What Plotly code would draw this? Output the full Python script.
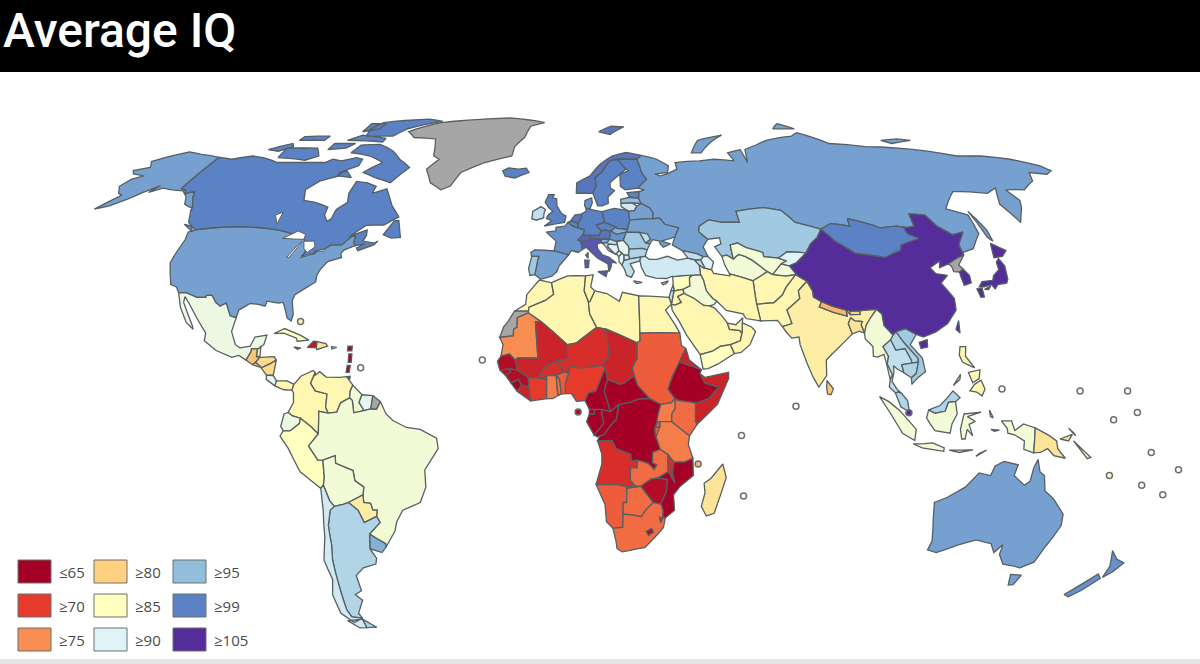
import plotly.graph_objects as go

# the cdn base map can't be fetched here, so outlines are rough lon/lat rings read by eye
legend_labels = ['≤65', '≥70', '≥75', '≥80', '≥85', '≥90', '≥95', '≥99', '≥105']
legend_colors = ['#A50026', '#E53A2C', '#F98E52', '#FDD17F', '#FFFFBF', '#E0F3F8', '#91BFDB', '#5B82C4', '#542D9B']
class_levels = [65, 70, 75, 80, 85, 90, 95, 99, 105]
no_data_color = '#A6A6A6'

###### North America
usa = [-124.7,48.4,-123,49,-95.2,49,-89.6,48,-84.8,46.5,-82.5,45.3,-82.5,42.8,-83,42,-79,42.8,-79,43.3,-76.5,44,-75,45,-71.5,45,-70.3,46.2,-69.2,47.4,-68,47.3,-67.8,45.7,-67,44.8,-70,43.7,-70.7,42.7,-70,41.7,-74,40.6,-75.5,38.5,-76,37,-75.7,35.3,-78,33.9,-81,32,-81.4,30.5,-80.1,26.8,-80.4,25.2,-81.8,26,-82.8,28,-84,30,-85.5,29.8,-89,30.3,-89.3,29,-91.5,29.5,-94,29.7,-97,28,-97.2,26,-99.2,26.5,-101.4,29.8,-103,29,-104.7,30,-106.5,31.8,-108.2,31.8,-108.2,31.3,-111,31.3,-114.8,32.5,-117.1,32.5,-118.5,34,-120.6,34.6,-122.4,37.5,-124.2,40.3,-124.2,43,-124,46.3]
alaska = [-141,69.6,-141,60.3,-139,60,-137.5,58.9,-135,59.6,-133,57.5,-130,55,-131.5,55.2,-134,56,-136,58,-139.5,59.7,-144,60,-148,60.5,-151.5,59.3,-150,61.2,-153.5,59.3,-156,57.5,-160,55.5,-164,54.6,-160,58.5,-162,59,-165,61,-164,63,-161,64,-166,64.6,-168,65.6,-163,66.5,-166,68.3,-163,69.5,-156.5,71.3,-150,70.5]
canada = [-141,69.6,-135,69,-128,70,-123,69.5,-115,68,-108,68,-100,68,-96,68,-94,69,-90,68.5,-85,69.5,-82,69,-81.5,67,-87,65,-86,64,-92,62.5,-94.8,60,-92.5,57,-88,56.5,-82.5,55.2,-82,53,-80,51.3,-79,52,-79,54.5,-76.5,56.5,-78,59,-78,62.4,-73.5,62,-69.5,61,-69.5,59,-65,60.3,-62.5,58,-60,55.5,-56,52.5,-60,50.3,-66,50.2,-70,47.2,-65,49,-64.5,47.5,-65,46,-61,45.5,-60,46,-61,45,-65.5,43.5,-66.3,44.2,-64,45.3,-67,44.8,-67.8,45.7,-68,47.3,-69.2,47.4,-70.3,46.2,-71.5,45,-75,45,-76.5,44,-79,43.3,-79,42.8,-83,42,-82.5,42.8,-82.5,45.3,-84.8,46.5,-89.6,48,-95.2,49,-123,49,-127,51,-130,54.5,-130,55,-133,57.5,-135,59.6,-137.5,58.9,-139,60,-141,60.3]
vancouver = [-123.5,48.5,-128,50.5,-125,50]
newfoundland = [-59,47.7,-57,51.4,-55.5,51.5,-53,47,-56,46.8]
baffin = [-61,66.5,-65,62,-72,63.5,-78,65,-73,68,-80,70,-89,71,-88,73.5,-80,73.7,-72,71.5,-67,69]
victoria_isl = [-117,69.5,-105,68.7,-101,70,-105,72.5,-118,72.5]
banks = [-125,72,-118,74,-116,73,-120,71.5]
ellesmere = [-90,76.5,-78,76.5,-75,79,-62,82,-70,83,-90,81.5,-92,79]
devon = [-96,75,-80,74.5,-80,75.7,-92,76.8]
southampton = [-87,64,-81,63.5,-85,65.7]
melville = [-117,75,-106,75,-106,76.5,-117,76.3]
somerset = [-100,72,-93,72.5,-91,74,-100,74]
axel = [-94,78,-88,79,-88,81,-95,81]
greenland = [-73,78,-68,76,-58,75.5,-54,70,-51,69,-54,66,-50,62,-45,60,-42,61,-40,65,-32,68,-22,70,-22,73,-19,76,-18,80,-12,81.5,-30,83.5,-50,82.5,-62,81.5]
mexico = [-117.1,32.5,-114.8,32.5,-111,31.3,-108.2,31.3,-108.2,31.8,-106.5,31.8,-104.7,30,-103,29,-101.4,29.8,-99.2,26.5,-97.2,26,-97.8,22.4,-96,19,-94.5,18.2,-91.5,18.6,-90.5,21,-87,21.5,-87.5,19,-88.3,18.5,-89,17.9,-91,17.9,-91,17.2,-92.2,15,-94.5,16.2,-96.5,15.7,-101.5,17.5,-105.5,20,-105.5,22,-109,25.8,-112.5,29.5,-114.7,31.5,-114.5,30,-110,24,-109.5,23,-112,24.8,-115,28.7]
guatemala = [-92.2,15,-91,17.2,-91,17.9,-89.2,17.9,-89.2,15.9,-88.2,15.7,-89.3,14.4,-90.1,13.8]
belize = [-89,17.9,-88.3,18.5,-88.2,16,-89.2,15.9,-89.2,17.9]
honduras = [-88.2,15.7,-84,15.9,-83.2,15,-85,14,-87.3,13,-89.3,14.4]
el_salvador = [-90.1,13.8,-89.3,14.4,-87.8,13.4,-88,13.2]
nicaragua = [-87.5,13,-85,14,-83.2,15,-83.7,11,-85.7,11.1]
costa_rica = [-85.7,11.1,-83.7,11,-82.6,9.6,-83,8.3,-85.7,10]
panama = [-83,8.3,-82.6,9.6,-79.5,9.6,-77.4,8.7,-77.9,7.2,-80.3,7.3,-81.5,7.7]
cuba = [-84.9,21.9,-82,23.2,-77,21.5,-74.2,20.2,-77.7,19.9,-78,20.7,-82,22]
haiti = [-74.4,18.3,-72.8,19.9,-71.7,19.8,-71.7,18.2]
dominican = [-71.7,19.8,-69,19.3,-68.4,18.6,-71.5,17.7,-71.7,18.2]
jamaica = [-78.4,18.4,-76.3,18.1,-77.3,17.8]
puerto_rico = [-67.2,18.5,-65.6,18.3,-67,17.9]
antilles_north = [-62.3,18.6,-61,18.6,-61,17.4,-62.3,17.4]
antilles_mid = [-61.8,16.6,-60.9,16.6,-60.9,14.4,-61.8,14.4]
antilles_south = [-62,13.6,-61.1,13.6,-61.3,11.8,-62.2,11.8]
trinidad = [-61.9,10.7,-60.9,10.8,-61,10.1]
na_names = ['USA', 'Alaska', 'Canada', 'Greenland', 'Mexico', 'Guatemala', 'Belize', 'Honduras', 'El Salvador', 'Nicaragua', 'Costa Rica', 'Panama', 'Cuba', 'Haiti', 'Dominican Rep.', 'Jamaica', 'Puerto Rico', 'Lesser Antilles', 'Trinidad']
na_iq = [97, 97, 99, None, 88, 79, 84, 81, 80, 81, 89, 84, 85, 67, 82, 66, 84, 65, 68]
na_rings = [[usa], [alaska], [canada, vancouver, newfoundland, baffin, victoria_isl, banks, ellesmere, devon, southampton, melville, somerset, axel], [greenland], [mexico], [guatemala], [belize], [honduras], [el_salvador], [nicaragua], [costa_rica], [panama], [cuba], [haiti], [dominican], [jamaica], [puerto_rico], [antilles_north, antilles_mid, antilles_south], [trinidad]]

###### South America
colombia = [-77.4,8.7,-75.5,10.8,-72,12.3,-71.3,11.8,-72.5,9,-71,7,-67.5,6.2,-67.8,2.8,-67,1.2,-69.8,1.7,-69.8,-0.5,-70,-4.2,-72,-2.4,-75.2,-0.1,-77.5,0.5,-78.8,1.4,-77.3,4,-77.4,6.5,-77.9,7.2]
venezuela = [-71.3,11.8,-71.7,10.8,-70,12,-68,10.6,-64,10.5,-62,10.7,-60,8.5,-60.7,7,-60.8,5.2,-63.4,3.9,-64.5,1.5,-67,1.2,-67.8,2.8,-67.5,6.2,-71,7,-72.5,9]
guyana = [-60,8.5,-57.2,6,-58,4,-56.5,1.9,-59.5,1.3,-60,4.5,-60.8,5.2,-60.7,7]
suriname = [-57.2,6,-54,5.8,-54.5,2.3,-56.5,1.9,-58,4]
fr_guiana = [-54,5.8,-51.7,4.2,-52.8,2.2,-54.5,2.3]
ecuador = [-80,1,-78.8,1.4,-77.5,0.5,-75.2,-0.1,-75.5,-1.5,-78.3,-3.4,-80.3,-3.4,-81,-2.2]
peru = [-80.3,-3.4,-78.3,-3.4,-75.5,-1.5,-75.2,-0.1,-72,-2.4,-70,-4.2,-73,-7.3,-70.5,-11,-69,-11,-69,-15.5,-69.5,-17.5,-70.4,-18.3,-76,-14,-79,-8,-81.3,-4.7]
brazil = [-51.7,4.2,-50,1,-48,-0.7,-44,-2.5,-40,-3,-35.2,-5.3,-34.8,-8,-39,-13.5,-39,-18,-41,-22,-46.5,-24,-48.7,-27,-49.7,-29.5,-53.4,-33.7,-53.2,-32.7,-57.6,-30.2,-53.8,-27.2,-54.6,-25.6,-54.2,-24,-55.5,-24,-56,-22.2,-58,-22,-58,-20,-57.5,-18,-60,-16.3,-60.3,-13.7,-65.3,-11.8,-65.3,-9.8,-69,-11,-70.5,-11,-73,-7.3,-70,-4.2,-69.8,-0.5,-69.8,1.7,-67,1.2,-64.5,1.5,-63.4,3.9,-60.8,5.2,-60,4.5,-59.5,1.3,-56.5,1.9,-54.5,2.3,-52.8,2.2]
bolivia = [-69,-11,-65.3,-9.8,-65.3,-11.8,-60.3,-13.7,-60,-16.3,-57.5,-18,-58,-20,-62.6,-22,-64.3,-22.5,-67,-23,-68.2,-21.5,-69.5,-17.5,-69,-15.5]
paraguay = [-58,-20,-58,-22,-56,-22.2,-55.5,-24,-54.2,-24,-54.6,-25.6,-58.6,-27.2,-60,-24,-62.6,-22]
uruguay = [-57.6,-30.2,-53.2,-32.7,-53.4,-33.7,-54.9,-35,-58.4,-34]
argentina = [-64.3,-22.5,-62.6,-22,-60,-24,-58.6,-27.2,-54.6,-25.6,-53.8,-27.2,-57.6,-30.2,-58.4,-34,-57,-36.5,-57.7,-38,-62,-39,-65,-41,-65,-45,-67.5,-46,-65.8,-47.5,-69,-51,-68.4,-52.3,-71.9,-52,-72.5,-50,-72,-46,-71.5,-42,-71,-37,-70,-33,-69.7,-28,-68.4,-24,-67,-23]
arg_fuego = [-68.6,-52.6,-65,-54.8,-68.6,-54.9]
chile = [-70.4,-18.3,-69.5,-17.5,-68.2,-21.5,-67,-23,-68.4,-24,-69.7,-28,-70,-33,-71,-37,-71.5,-42,-72,-46,-72.5,-50,-71.9,-52,-68.4,-52.3,-72,-53.5,-75,-51,-75,-46,-73,-42,-73.7,-37,-71.5,-31,-70.5,-24]
chile_fuego = [-68.6,-52.6,-68.6,-54.9,-71,-55,-74,-53]
sa_names = ['Colombia', 'Venezuela', 'Guyana', 'Suriname', 'French Guiana', 'Ecuador', 'Peru', 'Brazil', 'Bolivia', 'Paraguay', 'Uruguay', 'Argentina', 'Chile']
sa_iq = [84, 84, 87, 89, None, 88, 85, 87, 87, 83, 96, 93, 91]
sa_rings = [[colombia], [venezuela], [guyana], [suriname], [fr_guiana], [ecuador], [peru], [brazil], [bolivia], [paraguay], [uruguay], [argentina, arg_fuego], [chile, chile_fuego]]

###### Europe
iceland = [-24,65.5,-22,66.4,-18,66,-15,66.3,-13.6,65,-18.7,63.4,-22.5,63.9]
uk = [-5.5,50,1.3,51,1.7,52.7,0,53.5,-1.7,55.5,-2,57.5,-3.5,57.7,-3,58.6,-5,58.6,-6,56.5,-4.5,55,-3,54,-4.5,53,-5,52,-3,51.5]
ireland = [-6,52.2,-6,53.5,-5.6,54.5,-7.3,55.3,-10,54,-10,52,-8.5,51.6]
france = [2.5,51,1.5,50,-1.5,49.7,-1.5,48.7,-4.7,48.4,-1.2,46,-1.7,43.4,3.1,42.4,3.9,43.5,6.2,43,7.5,43.8,7,45.9,6,46.3,7.6,47.6,8.2,49,6,49.5,4.2,50]
corsica = [8.6,42.3,9.4,43,9.4,41.5]
spain = [-1.7,43.4,-8,43.7,-9.2,43,-8.8,42,-6.5,42,-6.8,41,-7,39.5,-7.4,37.2,-6.2,36.5,-5.5,36,-2,36.8,-0.5,38,0.2,39.5,3.1,42.4]
portugal = [-8.8,42,-6.5,42,-6.8,41,-7,39.5,-7.4,37.2,-8.9,37,-9.5,38.8]
belgium = [2.5,51,3.4,51.4,6,50.8,6,49.5,4.2,50]
netherlands = [3.4,51.4,4.7,53,7.1,53.3,6.9,52,6,50.8]
germany = [6.9,52,7.1,53.3,8.6,54,8.6,54.9,11,54.4,14.2,53.9,14.7,52,15,51,12.2,50.3,13.8,48.7,13,47.5,9.6,47.5,7.6,47.6,8.2,49,6,49.5,6,50.8]
switzerland = [6,46.3,7.6,47.6,9.6,47.5,10.4,46.8,9,45.9,7,45.9]
austria = [9.6,47.5,13,47.5,13.8,48.7,15,49,17,48.7,16.5,47,16.5,46.5,13.7,46.5,10.4,46.8]
italy = [7,45.9,9,45.9,10.4,46.8,13.7,46.5,13.7,45.6,12.3,45.2,12.5,44,14,42.4,16,41.8,18.5,40.2,17,40.5,16.6,39,16,38,15.7,40,12.5,41.5,10.5,43,8.8,44.4,7.5,43.8]
sicily = [12.5,38,15.6,38.2,15,36.7]
sardinia = [8.3,41,9.7,41,9.5,39.1,8.5,39]
denmark = [8.6,54.9,10,54.8,10.8,56.3,10.6,57.7,8.2,57,8.1,55.5]
norway = [5,59,5,62,10,64,14,67.5,19,70,25,71.1,31,70.2,29,69,25.7,69,21,69,18,68.5,14.5,65,12,63.5,12.3,61,11,59]
svalbard = [14,78,20,80,26,79.8,19,77]
sweden = [11,59,12.3,61,12,63.5,14.5,65,18,68.5,21,69,24,66,21.5,64.5,17.5,62,17.5,60.5,19,59.8,16.5,58,16.5,56.2,14.3,55.5,12.7,55.5,11.3,58.5]
finland = [21,69,25.7,69,29,69,30,65,31.5,63,27.8,60.5,23,60,21.3,61,21.5,64.5,25,65.5,24,66]
estonia = [23.5,59.2,28,59.5,27.5,57.6,24.3,57.9]
latvia = [21,57.3,24.3,57.9,27.5,57.6,28.2,56.2,25,56.3,21,56.2]
lithuania = [21,56.2,25,56.3,26.6,55.5,25.5,54.2,23.5,54,21,55.3]
poland = [14.2,53.9,18.5,54.8,23,54.3,23.5,54,23.6,51.5,22.6,49.1,19,49.4,18.8,49.7,15,51,14.7,52]
belarus = [23.5,54,25.5,54.2,26.6,55.5,28.2,56.2,31,55,32,53.5,31.5,52,24,51.7,23.6,51.5]
ukraine = [22.2,48.4,22.6,49.1,23.6,51.5,24,51.7,31.5,52,34,52.2,35.5,50.5,40,49.6,38.2,47.1,35,46.3,33.5,46,36.5,45.3,34,44.4,33,45.3,33,46,30.7,46.4,29.7,45.3,28.2,45.5,30,46.5,29.2,47.9,26.6,48.3]
moldova = [26.6,48.3,29.2,47.9,30,46.5,28.2,45.5]
czechia = [12.2,50.3,15,51,18.8,49.7,17,48.7,15,49,13.8,48.7]
slovakia = [17,48.7,18.8,49.7,19,49.4,22.6,49.1,22.2,48.4,18.8,47.8]
hungary = [16.5,47,17,48.7,18.8,47.8,22.2,48.4,21,46.2,18.8,45.9,16.5,46.5]
romania = [21,46.2,22.2,48.4,26.6,48.3,28.2,45.5,29.7,45.3,28.6,43.7,27,44.1,22.7,43.9,22.5,44.7]
bulgaria = [22.7,43.9,27,44.1,28.6,43.7,27.8,42,26.3,41.8,22.8,41.3,22.4,42.3]
slovenia = [13.7,46.5,16.5,46.5,15.5,45.5,13.7,45.6]
croatia = [13.7,45.6,15.5,45.5,16.5,46.5,18.8,45.9,19,45,16,45.2,15.8,44.5,17.6,43,18.5,42.4,16,43.5,14.5,45.2]
bosnia = [16,45.2,19,45,19.4,43.5,18.5,42.6,17.6,43,15.8,44.5]
serbia = [18.8,45.9,21,46.2,22.5,44.7,22.7,43.9,22.4,42.3,21,42.3,20.3,42.8,19.4,43.5,19,45]
montenegro = [18.5,42.6,19.4,43.5,20.3,42.8,19.3,41.9]
albania = [19.3,41.9,20.3,42.8,21,42.3,20.9,40.9,20.2,39.7,19.3,40.5]
macedonia = [21,42.3,22.4,42.3,22.8,41.3,20.9,40.9]
greece = [20.2,39.7,20.9,40.9,22.8,41.3,26.3,41.8,26,40.8,23.5,40.2,22.8,40,24,38,23,36.5,21.5,37,21,38.5]
crete = [23.6,35.6,26.3,35.2,24.5,34.9]
eu_names = ['Iceland', 'UK', 'Ireland', 'France', 'Spain', 'Portugal', 'Belgium', 'Netherlands', 'Germany', 'Switzerland', 'Austria', 'Italy', 'Denmark', 'Norway', 'Sweden', 'Finland', 'Estonia', 'Latvia', 'Lithuania', 'Poland', 'Belarus', 'Ukraine', 'Moldova', 'Czechia', 'Slovakia', 'Hungary', 'Romania', 'Bulgaria', 'Slovenia', 'Croatia', 'Bosnia', 'Serbia', 'Montenegro', 'Albania', 'Macedonia', 'Greece']
eu_iq = [99, 99, 92, 98, 97, 94, 99, 100, 99, 101, 100, 102, 98, 100, 99, 99, 99, 95, 91, 99, 97, 97, 92, 99, 96, 98, 94, 93, 96, 92, 90, 89, 89, 90, 91, 92]
eu_rings = [[iceland], [uk], [ireland], [france, corsica], [spain], [portugal], [belgium], [netherlands], [germany], [switzerland], [austria], [italy, sicily, sardinia], [denmark], [norway, svalbard], [sweden], [finland], [estonia], [latvia], [lithuania], [poland], [belarus], [ukraine], [moldova], [czechia], [slovakia], [hungary], [romania], [bulgaria], [slovenia], [croatia], [bosnia], [serbia], [montenegro], [albania], [macedonia], [greece, crete]]

###### Asia
russia = [28,59.5,30,60,27.8,60.5,31.5,63,30,65,29,69,31,70.2,37,69,41,67,40,65,35,64.5,37,64,40,64.7,44,66,44,68,54,68.5,60,69,68,68.5,67,71,73,72,73,68,75,72,81,73.5,87,75,100,76.5,104,77.7,113,74,127,73,140,72.5,160,70,170,70,180,69,188,67,189.5,65.5,186,64.5,180,65,177,62.5,170,60,163,60,164,57,162,55,157,51,155.5,56,160,60.5,155,59,143,59.5,135,54.7,141,53,140,48,135,44,131,43,130.7,42.3,131,45,135,48.4,131,47.7,127.5,50,126,53,120.8,53.3,119.8,50,117,49.6,114,50,108,49.5,106,50.3,98.5,52,98,50,92,50.7,87.8,49.2,80,51,76.8,54.3,71,55,61,54,61,51,55,51,50.7,51.7,47,50,46.5,48.5,49,46.5,48,45.5,47,44.5,48,42,46.5,41.9,44.5,42.7,40,43.5,37,45,38.2,47.1,40,49.6,35.5,50.5,34,52.2,31.5,52,32,53.5,31,55,28.2,56.2,27.5,57.6]
sakhalin = [142,54,143.5,49,143,46,142,47,142,51]
novaya = [52,71,56,71,69,76.8,57,75]
severnaya = [95,79,105,79,100,81]
siberian_isl = [137,75,145,75.5,150,75,140,74]
kazakhstan = [47,50,50.7,51.7,55,51,61,51,61,54,71,55,76.8,54.3,80,51,87.8,49.2,85.5,47,82.5,45.3,80,42.9,74,43.2,70.5,41.5,66,41.9,66,43,61,44.3,58.5,45.5,56,45,56,41.3,54.2,42.3,52.5,42,50.8,44.5,53,45.3,53,46.9,49,46.5,46.5,48.5]
turkmenistan = [52.5,42,54.2,42.3,56,41.3,58,42.5,60,42,62,41,66,38,64,37,61,35.6,54,37.4,53,39.5]
uzbekistan = [56,41.3,56,45,58.5,45.5,61,44.3,66,43,66,41.9,70.5,41.5,73,40.8,71,40,67.5,37.2,66,38,62,41,60,42,58,42.5]
tajikistan = [67.5,37.2,71,40,73.5,39.5,75,37.3,71.5,36.8]
kyrgyzstan = [70.5,41.5,74,43.2,80,42.9,76,40.3,73.5,39.5,71,40,73,40.8]
afghanistan = [61,35.6,64,37,66,38,67.5,37.2,71.5,36.8,74.8,37.2,71,34,69.3,31.9,66.3,29.9,61,29.5,60.9,31.5]
pakistan = [61,29.5,66.3,29.9,69.3,31.9,71,34,74.8,37.2,77.8,35.5,74.5,33,74.5,31,70,28,71,24.5,68,23.7,66.7,25.3,61.6,25.2]
iran = [44.8,39.7,46,39,48.5,38.5,49,37.5,54,36.9,54,37.4,61,35.6,60.9,31.5,61,29.5,61.6,25.2,57.2,25.8,56.5,27,51.5,27.9,48.9,30.3,47.7,31,46,33,45.5,35.8,44.8,37.2]
iraq = [42.3,37.1,44.8,37.2,45.5,35.8,46,33,47.7,31,48.9,30.3,47.9,29.4,46.5,29.1,44.7,29.2,42,31,39,32.3,38.8,33.4,41,34.3,41.2,36.5]
syria = [36,36.7,42.3,37.1,41.2,36.5,41,34.3,38.8,33.4,36,33,35.9,34.6]
jordan = [36,33,38.8,33.4,39,32.3,37,31.5,38,30,36,29.3,34.9,29.5,35.5,31.5]
israel = [34.3,31.3,34.9,29.5,35.5,31.5,36,33,35.1,33.1]
lebanon = [35.1,33.1,36,33,35.9,34.6]
saudi = [34.9,29.5,36,29.3,38,30,37,31.5,39,32.3,42,31,44.7,29.2,46.5,29.1,48,28.5,50,26.5,51.5,24.6,52,23,55,22.7,55.7,22,55,20,52,19,49,18.6,46.5,17.3,42.8,16.4,39,21.5,37,25,35,28]
yemen = [42.8,16.4,46.5,17.3,49,18.6,52,19,53,16.7,48,14,45,12.8,43.5,12.7]
oman = [52,19,55,20,55.7,22,56,24.7,56.5,24.5,58.7,23.6,59.8,22.4,57.8,19,55,17,53,16.7]
uae = [51.5,24.6,54,24.2,56.3,26,56,24.7,55.7,22,55,22.7,52,23]
turkey = [26.3,41.8,27.8,42,29,41.2,31.5,41.2,35,42,38,41,41.5,41.5,43.5,41.1,44.8,39.7,44.8,37.2,42.3,37.1,36,36.7,35.9,36.8,34,36.2,30.6,36.3,27.5,37,26.3,39.2,26,40.8]
cyprus = [32.3,35,34.5,35.6,33.8,34.9,32.8,34.6]
georgia = [40,43.5,44.5,42.7,46.5,41.9,45.5,41,43.5,41.1,41.5,41.5]
armenia = [43.5,41.1,45.5,41,46.5,39,46,39,44.8,39.7]
azerbaijan = [45.5,41,46.5,41.9,48,42,49.5,40.5,48.5,38.5,46,39,46.5,39]
india = [74.5,31,74.5,33,77.8,35.5,78.9,33,78.8,31.4,81,30.2,80,28.8,84,27.4,88,26.4,88,28,89,26.8,92,26.9,92,27.8,97.3,28.2,95,26,93.3,24,92.5,22,91.8,24.2,92.3,25,90,25.2,89,26,88,24.5,88.8,21.8,86.5,20,82,16.5,80.2,15,80,11,77.5,8,76,10.5,74.5,14,72.8,19,72.7,21,70.5,20.7,69,22.3,68,23.7,71,24.5,70,28]
nepal = [80,28.8,81,30.2,84,29,88,28,88,26.4,84,27.4]
bhutan = [89,26.8,89,27.7,92,27.8,92,26.9]
bangladesh = [89,26,90,25.2,92.3,25,91.8,24.2,92.5,22,91,22.5,88.8,21.8,88,24.5]
sri_lanka = [80,9.7,81.8,7.5,81,6,80,6.2,79.8,8]
myanmar = [92.5,22,93.3,24,95,26,97.3,28.2,98.7,27,98.7,24,101,21.5,100.1,20.3,97.5,18.5,98.8,16,98.2,14,99.5,11.2,98.7,10,98,14,97.5,16.5,95.5,15.8,94.3,16,94.5,18.5,92.5,20.5]
thailand = [100.1,20.3,101.2,17.6,104,18,105.5,15,105.5,14.2,102.5,13.8,102.9,11.7,101,12.7,100,13.5,100,12,99.2,9.5,100.5,7.5,102,6.2,101,6.7,100,6.5,98.3,8,98.7,10,99.5,11.2,98.2,14,98.8,16,97.5,18.5]
laos = [100.1,20.3,101,21.5,102,22.4,104,19.5,107.5,15.5,107.5,14.5,105.5,14.2,105.5,15,104,18,101.2,17.6]
cambodia = [102.5,13.8,105.5,14.2,107.5,14.5,106.5,11.5,105,10.4,102.9,11.7]
vietnam = [102,22.4,105,23.2,108,21.7,105.7,19,108.8,15.5,109.3,12,107,10.5,105,8.7,105,10.4,106.5,11.5,107.5,14.5,107.5,15.5,104,19.5]
malaya = [100,6.5,101,6.7,102,6.2,103.5,4.5,104,1.5,101.5,2.8,100.4,5.5]
sabah_sarawak = [109.6,2,111.5,1.2,114.5,1.7,115.5,4,117.6,4.2,119,5.2,117,7,115,5,113,3.2,111,2.5]
sumatra = [95.3,5.5,98,4.2,101,2,104,-1,106,-3,105.7,-5.9,102,-4,98.5,1]
java = [105.3,-6.8,108.5,-6.7,111,-6.5,114.5,-7.8,114.4,-8.7,108,-7.8]
kalimantan = [109,0,109.6,2,111.5,1.2,114.5,1.7,115.5,4,117.6,4.2,118,1,116.5,-1.5,116,-4,111.5,-3.3,110,-1.5]
sulawesi = [120,1,125,1.5,121,0.3,123.3,-0.9,121.5,-1.7,122.7,-4.7,121,-3,120.5,-5.5,119.5,-5.5,119,-3]
sunda = [116,-8.4,119,-8.4,123,-8.3,119,-9]
timor = [124,-10,127,-8.4,125,-9.2]
halmahera = [127.5,2,128.6,0,127.8,0.3]
seram = [128,-3,130.5,-3.2,129,-3.5]
west_papua = [131,-0.8,134,-0.8,135,-3.3,137.5,-1.6,141,-2.6,141,-9.1,138,-8.2,138,-6,135,-4.4,133,-4,132.8,-2.8]
luzon = [120.5,18.5,122.2,18.5,121.7,16,124,13,122,13.8,120.6,14.5,119.9,16.3]
mindanao = [122,7,123.5,8.7,125.5,9.8,126.5,7.5,125.5,5.7,124,6.7]
visayas = [122,11.8,125.5,12.5,125,10.2,123,9.1]
palawan = [117.2,8.4,119.6,11.3,119.3,10]
china = [74.8,37.2,75,37.3,73.5,39.5,76,40.3,80,42.9,82.5,45.3,85.5,47,87.8,49.2,91,46,96,42.8,105,41.7,111,43.6,112,45,119,46.7,116,48,116,49.8,117,49.6,119.8,50,120.8,53.3,126,53,127.5,50,131,47.7,135,48.4,131,45,130.7,42.3,128,41.5,124.3,40,121,39,122,40.8,118,39,119,37.5,122.5,37,119.5,35,122,31,121.5,28,118,24.5,114,22.3,110,21,108,21.7,105,23.2,102,22.4,101,21.5,98.7,24,98.7,27,97.3,28.2,92,27.8,89,27.7,88,28,84,29,81,30.2,78.8,31.4,78.9,33,77.8,35.5]
hainan = [108.5,19.6,111,20.3,110.8,18.4,108.8,18]
taiwan = [120.2,23,121.5,25.3,121.2,22]
mongolia = [87.8,49.2,91,46,96,42.8,105,41.7,111,43.6,112,45,119,46.7,116,48,116,49.8,117,49.6,114,50,108,49.5,106,50.3,98.5,52,98,50,92,50.7]
north_korea = [124.3,40,128,41.5,130.7,42.3,127.5,39.7,128.3,38.6,126.7,37.9,125,38,125,39.5]
south_korea = [126.7,37.9,128.3,38.6,129.4,37,129,35.1,126.5,34.4,126.5,36.5]
honshu = [130.9,34,132.5,35.4,136,35.7,137,37,139.5,38.5,140,40.5,141.3,41.4,142,39.5,140.9,36,140,35,137,34.6,135.7,33.5,135,34.6,132.5,34]
hokkaido = [140,41.6,141.7,45.4,145.3,43.5,143,42]
kyushu = [130,33.5,131.7,33.7,131.4,31.4,130.3,31.3]
shikoku = [132.3,33.4,134.6,34.2,133.5,33.3]
asia_names = ['Russia', 'Kazakhstan', 'Turkmenistan', 'Uzbekistan', 'Tajikistan', 'Kyrgyzstan', 'Afghanistan', 'Pakistan', 'Iran', 'Iraq', 'Syria', 'Jordan', 'Israel', 'Lebanon', 'Saudi Arabia', 'Yemen', 'Oman', 'UAE', 'Turkey', 'Cyprus', 'Georgia', 'Armenia', 'Azerbaijan', 'India', 'Nepal', 'Bhutan', 'Bangladesh', 'Sri Lanka', 'Myanmar', 'Thailand', 'Laos', 'Cambodia', 'Vietnam', 'Malaysia', 'Indonesia', 'New Guinea W', 'Philippines', 'China', 'Taiwan', 'Mongolia', 'North Korea', 'South Korea', 'Japan']
asia_iq = [97, 94, 87, 87, 87, 90, 84, 84, 84, 87, 85, 84, 92, 85, 84, 85, 84, 84, 91, 92, 92, 92, 90, 83, 78, 80, 82, 79, 87, 92, 93, 93, 94, 93, 87, 87, 84, 105, 105, 99, None, 105, 105]
asia_rings = [[russia, sakhalin, novaya, severnaya, siberian_isl], [kazakhstan], [turkmenistan], [uzbekistan], [tajikistan], [kyrgyzstan], [afghanistan], [pakistan], [iran], [iraq], [syria], [jordan], [israel], [lebanon], [saudi], [yemen], [oman], [uae], [turkey], [cyprus], [georgia], [armenia], [azerbaijan], [india], [nepal], [bhutan], [bangladesh], [sri_lanka], [myanmar], [thailand], [laos], [cambodia], [vietnam], [malaya, sabah_sarawak], [sumatra, java, kalimantan, sulawesi, sunda, timor, halmahera, seram], [west_papua], [luzon, mindanao, visayas, palawan], [china, hainan], [taiwan], [mongolia], [north_korea], [south_korea], [honshu, hokkaido, kyushu, shikoku]]

###### Africa
morocco = [-13,27.7,-8.7,27.7,-8.7,28.7,-3.7,30.5,-1.2,32.1,-2,35.1,-5.9,35.8,-9.5,32,-9.7,29.5]
w_sahara = [-17.1,20.9,-13,21.3,-13,23,-12,23.5,-12,26,-8.7,27.3,-8.7,27.7,-13,27.7,-14.8,25,-16,23.7]
mauritania = [-17.1,20.9,-16,19,-16.5,16,-14,16.6,-12.2,15,-11.5,15.6,-5.5,15.5,-6.5,25,-4.8,25,-8.7,27.3,-12,26,-12,23.5,-13,23,-13,21.3]
algeria = [-8.7,27.3,-8.7,28.7,-3.7,30.5,-1.2,32.1,-2,35.1,3,36.9,8.6,36.9,8.2,33,9.5,30.2,9.9,27,12,23.5,6,19.5,3.2,19,-4.8,25]
tunisia = [8.6,36.9,11,37.2,10.2,34,11.5,33,10,30.2,9.5,30.2,8.2,33]
libya = [11.5,33,15.2,32.3,19,30.3,20,32.6,25,31.7,25,20,24,19.5,15,23,12,23.5,9.9,27,9.5,30.2,10,30.2]
egypt = [25,31.7,31,31.5,34.3,31.3,34.9,29.5,33,28,35.8,24,37,22,25,22]
sudan = [25,22,37,22,37.3,18.8,38.6,18,36.5,14.5,34.3,10.6,33,7.5,35,5,33.9,3.9,30.8,3.5,27.5,5,24,8.5,23,11,22.5,13,24,15.5,24,19.5,25,20]
eritrea = [38.6,18,39.5,15,43,12.5,41.5,13,36.5,14.5]
ethiopia = [36.5,14.5,41.5,13,43,12.5,42.5,11.5,44,9,48,8,45,5,41.9,4,41,3.9,36,4.5,35,5,33,7.5,34.3,10.6]
somalia = [42.5,11.5,44,10.5,51,11.8,51,10.3,47.5,3.5,41.5,-1.7,41,-0.9,41,3.9,41.9,4,45,5,48,8,44,9]
kenya = [35,5,36,4.5,41,3.9,41,-0.9,41.5,-1.7,39.3,-4.7,37.7,-3.6,34,-1,34,1,35,2.5]
uganda = [30.8,3.5,33.9,3.9,35,5,35,2.5,34,1,34,-1,30.5,-1,29.6,-1.4,30,1]
tanzania = [34,-1,37.7,-3.6,39.3,-4.7,39,-7,40.4,-10.5,38,-11.5,34.8,-11.5,33,-9.5,30.7,-8.2,29.4,-5,30.5,-2.3,30.5,-1]
rwanda = [29.6,-1.4,30.5,-1,30.5,-2.3,29,-2.7]
burundi = [29,-2.7,30.5,-2.3,29.4,-5,29.2,-4.5]
drc = [12.2,-5.9,13,-4.6,14,-4.5,16,-2,17.7,-0.5,18.5,3.5,22,4.1,24.5,5,27.5,5,30.8,3.5,30,1,29.6,-1.4,29,-2.7,29.2,-4.5,29.4,-5,30.7,-8.2,28.5,-9,28.5,-11.7,29.8,-12.2,29,-13.4,27.2,-11.8,24,-11,22.2,-11.2,22,-9.5,17.7,-8,16.5,-5.9]
congo = [11.2,-4.5,14,-1.5,13.3,2.2,16,1.7,18.5,3.5,17.7,-0.5,16,-2,14,-4.5,13,-4.6,12.2,-5]
gabon = [9,-1,9.8,1,11.3,1,11.3,2.2,13.3,2.2,14,-1.5,11.2,-4.5]
eq_guinea = [9.8,1,9.8,2.2,11.3,2.2,11.3,1]
cameroon = [8.5,4.5,9.5,6.5,11.7,7,13.5,11,14.5,13,15.2,10,14.2,7,16,1.7,13.3,2.2,9.8,2.2]
nigeria = [2.7,6.3,2.7,9,3.7,11.7,4,13.5,7,13,10,13.2,13.6,13.7,14.5,13,13.5,11,11.7,7,9.5,6.5,8.5,4.5,6,4.3,4.5,6.3]
car = [14.2,7,15.2,10,18.7,8.8,20,9,23,11,24,8.5,27.5,5,24.5,5,22,4.1,18.5,3.5,16,1.7]
chad = [14.5,13,13.6,13.7,15.5,16,15,23,24,19.5,24,15.5,22.5,13,23,11,20,9,18.7,8.8,15.2,10]
niger = [2.3,11.9,0.2,14.8,3.3,15.3,3.2,19,6,19.5,12,23.5,15,23,15.5,16,13.6,13.7,10,13.2,7,13,4,13.5,3.7,11.7]
mali = [-12.2,15,-11.5,12.4,-8.3,10.5,-5.5,10.4,-3,13.5,0.2,14.8,3.3,15.3,3.2,19,-4.8,25,-6.5,25,-5.5,15.5,-11.5,15.6]
burkina = [-5.5,10.4,-2.8,10,-2.8,11,0,11,2.3,11.9,0.2,14.8,-3,13.5]
senegal = [-17.5,14.7,-16.5,16,-14,16.6,-12.2,15,-11.5,12.4,-13.7,12.7,-16.7,12.4]
guinea_bissau = [-16.7,12.4,-13.7,12.7,-13.7,11.7,-15,11]
guinea = [-15,11,-13.7,11.7,-13.7,12.7,-11.5,12.4,-8.3,10.5,-8,8,-10.2,8.5,-11.2,10,-13.3,9]
sierra_leone = [-13.3,9,-11.2,10,-10.2,8.5,-11.5,6.9]
liberia = [-11.5,6.9,-10.2,8.5,-8,8,-7.5,4.4]
ivory_coast = [-7.5,4.4,-8,8,-8.3,10.5,-5.5,10.4,-2.8,10,-2.8,5]
ghana = [-2.8,5,-2.8,11,0,11,0.5,6,1,6,-1,5]
togo = [0,11,1,10,1.6,6.2,1,6,0.5,6]
benin = [1.6,6.2,1,10,0,11,2.3,11.9,3.7,11.7,2.7,9,2.7,6.3]
angola = [12.2,-5.9,16.5,-5.9,17.7,-8,22,-9.5,22.2,-11.2,24,-11,24,-13,22,-13,22,-16.2,23.4,-17.6,21,-18,18.5,-17.4,11.8,-17.3,13.5,-12,13.5,-9.5]
namibia = [11.8,-17.3,18.5,-17.4,21,-18,23.4,-17.6,25.2,-17.8,21,-18.3,21,-22,20,-22,20,-28.4,17,-28.7,15,-27,14.5,-22.5]
botswana = [21,-18.3,25.2,-17.8,29,-22,27,-23.7,25.5,-25.7,23,-25.3,20,-25,20,-22,21,-22]
zambia = [22,-13,24,-13,24,-11,27.2,-11.8,29,-13.4,29.8,-12.2,28.5,-11.7,28.5,-9,30.7,-8.2,33,-9.5,33.2,-14,30.2,-15.6,28,-16,25.2,-17.8,23.4,-17.6,22,-16.2]
malawi = [33,-9.5,34.8,-11.5,34.5,-14.5,35.3,-17,33.2,-14]
zimbabwe = [25.2,-17.8,28,-16,30.2,-15.6,33,-16,32.9,-19,31.3,-22.4,29,-22]
mozambique = [34.8,-11.5,38,-11.5,40.4,-10.5,40.7,-15,37,-17.7,35,-20,35.5,-24,32.8,-26,32,-26,32,-24,31.3,-22.4,32.9,-19,33,-16,30.2,-15.6,33.2,-14,35.3,-17,34.5,-14.5]
south_africa = [17,-28.7,20,-28.4,20,-25,23,-25.3,25.5,-25.7,27,-23.7,29,-22,31.3,-22.4,32,-24,32,-26,32.8,-26,32.4,-28.5,31,-30,27,-33.7,25,-34,20,-34.8,18.4,-34,18,-32]
swaziland = [31,-25.8,32,-26,31.5,-27.3]
lesotho = [27.2,-29.5,28.8,-28.7,29.4,-29.7,28,-30.6]
madagascar = [49.3,-12,50.5,-15.5,47.5,-24.8,45.2,-25.5,43.5,-23,44.4,-19.5,44,-17,46,-15.7]
af_names = ['Morocco', 'Western Sahara', 'Mauritania', 'Algeria', 'Tunisia', 'Libya', 'Egypt', 'Sudan', 'Eritrea', 'Ethiopia', 'Somalia', 'Kenya', 'Uganda', 'Tanzania', 'Rwanda', 'Burundi', 'DR Congo', 'Congo', 'Gabon', 'Eq. Guinea', 'Cameroon', 'Nigeria', 'CAR', 'Chad', 'Niger', 'Mali', 'Burkina Faso', 'Senegal', 'Guinea-Bissau', 'Guinea', 'Sierra Leone', 'Liberia', 'Ivory Coast', 'Ghana', 'Togo', 'Benin', 'Angola', 'Namibia', 'Botswana', 'Zambia', 'Malawi', 'Zimbabwe', 'Mozambique', 'South Africa', 'Swaziland', 'Lesotho', 'Madagascar']
af_iq = [84, None, 75, 84, 84, 84, 84, 72, 68, 65, 68, 73, 74, 74, 72, 72, 63, 64, 64, 64, 65, 70, 65, 68, 69, 68, 69, 66, 66, 66, 65, 68, 70, 74, 73, 72, 69, 72, 73, 73, 69, 66, 65, 73, 68, 66, 82]
af_rings = [[morocco], [w_sahara], [mauritania], [algeria], [tunisia], [libya], [egypt], [sudan], [eritrea], [ethiopia], [somalia], [kenya], [uganda], [tanzania], [rwanda], [burundi], [drc], [congo], [gabon], [eq_guinea], [cameroon], [nigeria], [car], [chad], [niger], [mali], [burkina], [senegal], [guinea_bissau], [guinea], [sierra_leone], [liberia], [ivory_coast], [ghana], [togo], [benin], [angola], [namibia], [botswana], [zambia], [malawi], [zimbabwe], [mozambique], [south_africa], [swaziland], [lesotho], [madagascar]]

###### Oceania
australia = [113.5,-22,114,-26,115.5,-32,115,-34.3,118,-35,124,-33,129,-31.7,134,-32.7,136,-35,137.8,-33,138,-35.5,140.5,-38,144,-38.5,146.5,-39,150,-37.5,151,-34,153.5,-28,153,-25,149,-21,146,-19,145,-15,143.5,-14,142.5,-10.8,141.5,-13,141,-16.5,139.5,-17.5,136,-15,136.8,-12.2,132.5,-11.3,130,-12.5,129,-15,125.5,-14.3,122,-18,117,-20.7]
tasmania = [144.7,-40.7,148.3,-40.9,147.5,-43.4,146,-43.5]
nz_north = [172.7,-34.5,175.5,-36.7,178.5,-37.7,176.8,-40,174.8,-41.5,174.7,-38.5]
nz_south = [172.7,-40.6,174.3,-41.7,171,-45,168.5,-46.6,166.5,-46,170,-43]
png = [141,-2.6,145,-4.5,147.5,-6,148,-8,150.5,-10.5,147,-9.8,145,-8,143,-9,141,-9.1]
new_britain = [148.5,-5.5,152,-4.3,151,-6]
new_ireland = [150.8,-2.7,153,-4.7,152.5,-4]
solomon = [152.5,-6,158,-10.3,157,-10.6]
oc_names = ['Australia', 'New Zealand', 'Papua New Guinea', 'Solomon Is.']
oc_iq = [97, 98, 82, 85]
oc_rings = [[australia, tasmania], [nz_north, nz_south], [png, new_britain, new_ireland], [solomon]]

###### lakes on top of the land
superior = [-92,46.7,-88,48.7,-85,47.8,-84.7,46.5,-87,46.5]
michigan = [-87.7,41.7,-85.5,45.7,-85,45.8,-86.3,43,-87,41.7]
huron = [-84.5,46,-81,46,-80,44.5,-81.7,43,-83.3,44]
erie = [-83.3,41.6,-79,42.8,-81.5,42.5]
ontario = [-79.7,43.3,-76.3,44,-76.5,43.4]
winnipeg = [-99,53,-97,53.8,-96.5,50.5]
lakes = [superior, michigan, huron, erie, ontario, winnipeg]

###### tiny islands drawn as rings
isle_names = ['Palau', 'Micronesia', 'Marshall Is.', 'Nauru', 'Kiribati', 'Tuvalu', 'Samoa', 'Tonga', 'Fiji', 'Vanuatu', 'Seychelles', 'Mauritius', 'Comoros', 'Maldives', 'Cape Verde', 'Sao Tome', 'Singapore', 'Barbados', 'Bahamas']
isle_lon = [131.5, 154.5, 168.5, 164, 171, 175.7, 184.5, 181.5, 174.5, 164.3, 54.6, 56, 42, 70.6, -22, 6.5, 103.8, -58, -77.5]
isle_lat = [7.5, 7, 7, -0.5, 1.4, -9, -13.5, -20, -17.5, -15, -4.6, -20.3, -12, 3, 15, 1.5, 1.3, 13, 25]
isle_iq = [None, None, None, None, None, None, None, None, None, 85, None, None, 78, None, None, 66, 105, None, 84]

all_names = na_names + sa_names + eu_names + asia_names + af_names + oc_names
all_iq = na_iq + sa_iq + eu_iq + asia_iq + af_iq + oc_iq
all_rings = na_rings + sa_rings + eu_rings + asia_rings + af_rings + oc_rings


def hex_rgb(h):
    return [int(h[i:i + 2], 16) for i in (1, 3, 5)]


def iq_color(v):
    # colour between the two legend classes around v
    if v is None:
        return no_data_color
    if v <= class_levels[0]:
        return legend_colors[0]
    for i in range(1, len(class_levels)):
        if v <= class_levels[i]:
            t = (v - class_levels[i - 1]) / (class_levels[i] - class_levels[i - 1])
            a, b = hex_rgb(legend_colors[i - 1]), hex_rgb(legend_colors[i])
            return 'rgb(%d,%d,%d)' % tuple(round(a[k] + (b[k] - a[k]) * t) for k in range(3))
    return legend_colors[-1]


def ring_lines(rings):
    # flat lists to lon / lat with None between rings, all clockwise for d3
    lons, lats = [], []
    for flat in rings:
        pts = list(zip(flat[0::2], flat[1::2]))
        area = sum(pts[i][0] * pts[(i + 1) % len(pts)][1] - pts[(i + 1) % len(pts)][0] * pts[i][1] for i in range(len(pts)))
        if area > 0:
            pts = pts[::-1]
        pts.append(pts[0])
        lons += [p[0] for p in pts] + [None]
        lats += [p[1] for p in pts] + [None]
    return lons[:-1], lats[:-1]


fig = go.Figure()
border = '#565f62'

for name, val, rings in zip(all_names, all_iq, all_rings):
    lons, lats = ring_lines(rings)
    fig.add_trace(go.Scattergeo(lon=lons, lat=lats, mode='lines', fill='toself', fillcolor=iq_color(val),
                                line=dict(color=border, width=1.3), name=name, hoverinfo='name', showlegend=False))

for lake in lakes:
    lons, lats = ring_lines([lake])
    fig.add_trace(go.Scattergeo(lon=lons, lat=lats, mode='lines', fill='toself', fillcolor='white',
                                line=dict(color=border, width=1), hoverinfo='skip', showlegend=False))

fig.add_trace(go.Scattergeo(lon=isle_lon, lat=isle_lat, text=isle_names, mode='markers', hoverinfo='text', showlegend=False,
                            marker=dict(size=6, color=[iq_color(v) if v else 'white' for v in isle_iq],
                                        line=dict(color='#6b6f70', width=1.5))))

fig.update_geos(visible=False, showland=False, showocean=False, showlakes=False, showrivers=False, showcountries=False,
                showcoastlines=False, showsubunits=False, showframe=False, bgcolor='white',
                projection=dict(type='robinson', scale=1.02, rotation=dict(lon=10)), lonaxis_range=[-170, 190], lataxis_range=[-90, 90],
                center=dict(lon=13, lat=22.3), domain=dict(x=[0, 1], y=[0, 1]))

W, H = 1200, 664
shapes = [dict(type='rect', xref='paper', yref='paper', x0=0, x1=1, y0=1 - 72 / H, y1=1, fillcolor='black', line_width=0),
          dict(type='rect', xref='paper', yref='paper', x0=0, x1=1, y0=0, y1=5 / H, fillcolor='#e4e4e4', line_width=0)]
annotations = [dict(text='Average IQ', xref='paper', yref='paper', x=1 / W, y=1 - 30 / H, xanchor='left', yanchor='middle',
                    showarrow=False, font=dict(family='Roboto', size=48, color='white', weight=500))]

# legend runs down three columns
col_x = [18, 94, 173]
row_y = [560, 594, 628]
for i, (lab, col) in enumerate(zip(legend_labels, legend_colors)):
    x, y = col_x[i // 3], row_y[i % 3]
    shapes.append(dict(type='rect', xref='paper', yref='paper', x0=x / W, x1=(x + 33) / W, y0=1 - (y + 23) / H, y1=1 - y / H,
                       fillcolor=col, line=dict(color='#6e6e6e', width=1)))
    annotations.append(dict(text=lab, xref='paper', yref='paper', x=(x + 39) / W, y=1 - (y + 12) / H, xanchor='left', yanchor='middle',
                            showarrow=False, font=dict(family='Open Sans', size=15, color='#4a4a4a')))

fig.update_layout(width=W, height=H, margin=dict(l=0, r=0, t=0, b=0), paper_bgcolor='white',
                  shapes=shapes, annotations=annotations)
# page has a default 8px body margin, the band has to touch the window edge
fig.write_html("out.html", config={'displayModeBar': False},
               post_script="document.body.style.margin='0';document.body.style.overflow='hidden';")
